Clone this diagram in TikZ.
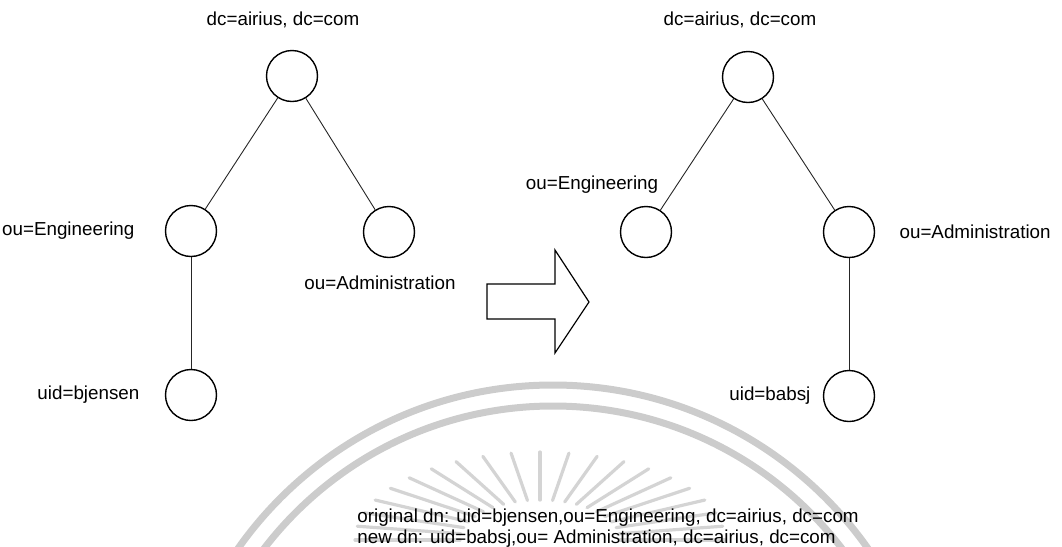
\documentclass[tikz,border=0pt]{standalone}
\usepackage{fontspec}
\setmainfont{Liberation Sans}
\usetikzlibrary{positioning}

\begin{document}
\begin{tikzpicture}[x=0.5pt, y=-0.5pt,
    entry/.style={draw, circle, minimum size=25.5pt, inner sep=0pt,
      line width=0.7pt},
    rdn/.style={font=\fontsize{9.4}{10.8}\selectfont, inner sep=0pt},
    link/.style={draw=black!85, line width=0.45pt},
    seal/.style={draw=black!20}]
  \useasboundingbox (0,0) rectangle (1062,547);

  % faint seal behind the trees
  \begin{scope}
    \clip (0,0) rectangle (1062,547);
    \draw[seal, line width=3.5pt] (553,770) circle[radius=192.5pt];
    \draw[seal, line width=3.5pt] (553,770) circle[radius=182pt];
    \foreach \a in {0,9,...,180}
      \draw[seal, draw=black!17, line width=1.6pt, line cap=round]
        ({540+80*cos(\a)},{540-40*sin(\a)}) -- ({540+185*cos(\a)},{540-88*sin(\a)});
  \end{scope}

  % tree before the move
  \node[entry] (root1) at (292,76) {};
  \node[entry] (eng1) at (191,231) {};
  \node[entry] (adm1) at (389,232) {};
  \node[entry] (bjensen) at (191,395) {};
  \node[rdn] (root1-rdn) at (283,20) {dc=airius, dc=com};
  \node[rdn, left=15pt of eng1] (eng1-rdn) {ou=Engineering};
  \node[rdn] (adm1-rdn) at (380,283) {ou=Administration};
  \node[rdn, left=12.5pt of bjensen] (bjensen-rdn) {uid=bjensen};
  \draw[link] (root1) -- (eng1);
  \draw[link] (root1) -- (adm1);
  \draw[link] (eng1) -- (bjensen);

  % block arrow
  \draw[line width=0.6pt] (487,284) -- (555,284) -- (555,250) -- (589,302)
    -- (555,353) -- (555,319) -- (487,319) -- cycle;

  % tree after the move
  \node[entry] (root2) at (748,77) {};
  \node[entry] (eng2) at (646,232) {};
  \node[entry] (adm2) at (849,232) {};
  \node[entry] (babsj) at (849,396) {};
  \node[rdn] (root2-rdn) at (740,20) {dc=airius,\ dc=com};
  \node[rdn] (eng2-rdn) at (592,185) {ou=Engineering};
  \node[rdn, right=12pt of adm2] (adm2-rdn) {ou=Administration};
  \node[rdn, left=6pt of babsj] (babsj-rdn) {uid=babsj};
  \draw[link] (root2) -- (eng2);
  \draw[link] (root2) -- (adm2);
  \draw[link] (adm2) -- (babsj);

  \node[rdn, align=left, anchor=west] (dn-note) at (357,528)
    {original dn: uid=bjensen,ou=Engineering, dc=airius, dc=com\\
     new dn: uid=babsj,ou= Administration, dc=airius, dc=com};
\end{tikzpicture}
\end{document}
